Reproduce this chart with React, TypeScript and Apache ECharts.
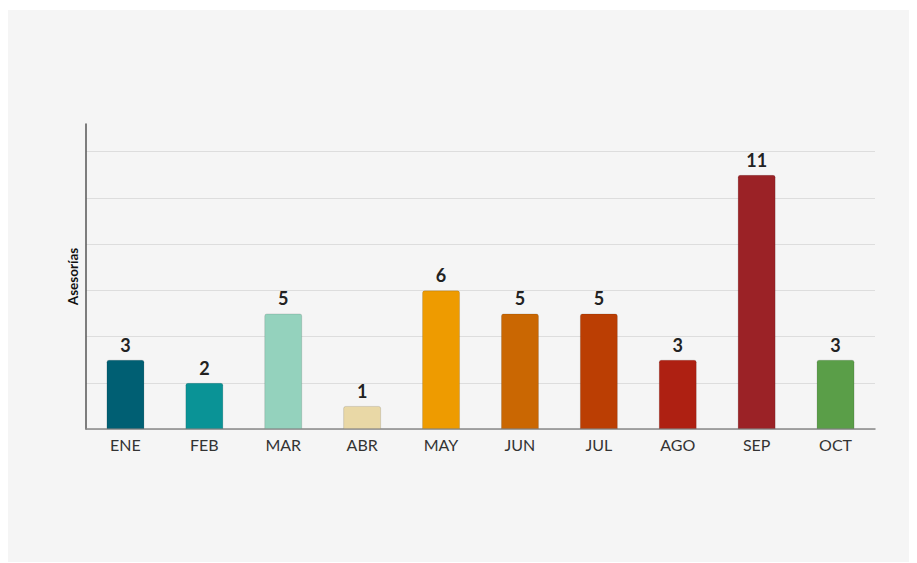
import React, { useEffect, useRef } from "react";
import * as echarts from "echarts";

const months = ["ENE", "FEB", "MAR", "ABR", "MAY", "JUN", "JUL", "AGO", "SEP", "OCT"];
const asesorias = [3, 2, 5, 1, 6, 5, 5, 3, 11, 3];
const barColors = [
  "#005f73",
  "#0a9396",
  "#94d2bd",
  "#e9d8a6",
  "#ee9b00",
  "#ca6702",
  "#bb3e03",
  "#ae2012",
  "#9b2226",
  "#5a9e48",
];
const yAxisName = "Asesorías";

export default function App() {
  const ref = useRef<HTMLDivElement>(null);
  useEffect(() => {
    if (!ref.current) return;
    const chart = echarts.init(ref.current, undefined, { renderer: "svg" });
    chart.setOption({
      animation: false,
      backgroundColor: "#f5f5f5",
      textStyle: { fontFamily: "Lato, 'Noto Sans', sans-serif" },
      grid: { left: 78, right: 38, top: 114, bottom: 133, containLabel: false },
      xAxis: {
        type: "category",
        data: months,
        axisLine: { show: true, lineStyle: { color: "#888", width: 1.5 } },
        axisTick: { show: false },
        axisLabel: { color: "#333", fontSize: 16, margin: 7 },
      },
      yAxis: {
        type: "value",
        min: 0,
        max: 13.2,
        interval: 2,
        name: yAxisName,
        nameLocation: "middle",
        nameGap: 6,
        nameRotate: 90,
        nameTextStyle: { color: "#111", fontSize: 13.5, fontWeight: "bold" },
        axisLine: { show: true, lineStyle: { color: "#555", width: 1.5 } },
        axisTick: { show: false },
        axisLabel: { show: false },
        splitLine: { show: true, showMaxLine: false, lineStyle: { color: "#dddddd", width: 1 } },
      },
      series: [
        {
          type: "bar",
          barWidth: 38,
          data: asesorias.map((v, i) => ({
            value: v,
            itemStyle: {
              color: barColors[i],
              borderColor: "rgba(0,0,0,0.12)",
              borderWidth: 1,
              borderRadius: [2, 2, 0, 0],
            },
          })),
          label: {
            show: true,
            position: "top",
            distance: 6,
            color: "#222",
            fontSize: 18,
            fontWeight: "bold",
          },
        },
      ],
    });
    return () => chart.dispose();
  }, []);
  return (
    <div
      ref={ref}
      style={{ width: 905, height: 552, marginTop: 2 }}
    />
  );
}
